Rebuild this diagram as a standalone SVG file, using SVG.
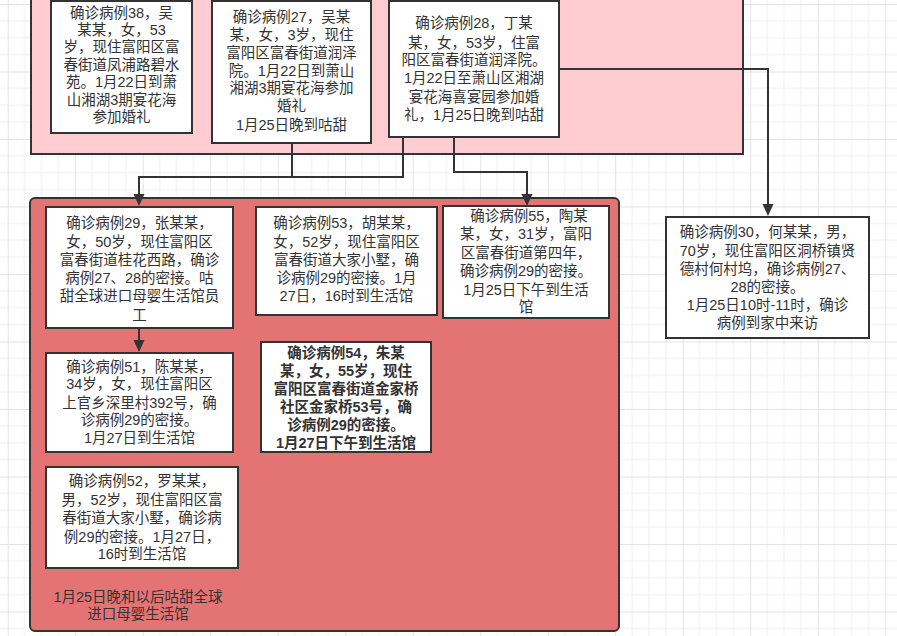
<svg xmlns="http://www.w3.org/2000/svg" width="897" height="636" viewBox="0 0 897 636">
<style>
  .node { fill: #ffffff; stroke: #333333; stroke-width: 2; }
  .t { font-family: "Liberation Sans", "Noto Sans CJK SC", sans-serif; font-size: 14.5px; fill: #333333; text-anchor: middle; dominant-baseline: central; }
  .b { font-weight: bold; }
  .conn { fill: none; stroke: #333333; stroke-width: 2; }
</style>
<defs>
  <pattern id="grid" patternUnits="userSpaceOnUse" x="7.7" y="4" width="67.5" height="67.5">
    <path d="M16.875,0 V67.5 M33.75,0 V67.5 M50.625,0 V67.5 M0,16.875 H67.5 M0,33.75 H67.5 M0,50.625 H67.5" stroke="#f0f0f0" stroke-width="1" fill="none"/>
    <path d="M0.5,0 V67.5 M0,0.5 H67.5" stroke="#e3e3e3" stroke-width="1" fill="none"/>
  </pattern>
  <marker id="arr" viewBox="0 -6 12 12" refX="0" refY="0" markerWidth="12" markerHeight="12" markerUnits="userSpaceOnUse" orient="auto">
    <path d="M0,-5.5 L12,0 L0,5.5 z" fill="#333333"/>
  </marker>
</defs>
<rect x="0" y="0" width="897" height="636" fill="#ffffff"/>
<rect x="0" y="0" width="897" height="636" fill="url(#grid)"/>

<g id="container-top">
  <rect x="31" y="-10" width="712" height="164" fill="#ffccd2" stroke="#333333" stroke-width="2"/>
</g>
<g id="container-shop">
  <rect x="30" y="198" width="589" height="433" rx="5" ry="5" fill="#e47373" stroke="#333333" stroke-width="2"/>
  <text class="t"><tspan x="138" y="596.7">1月25日晚和以后咕甜全球</tspan><tspan x="138" y="614">进口母婴生活馆</tspan></text>
</g>

<g id="connectors">
  <path class="conn" d="M292,143 V177 H139 V194" marker-end="url(#arr)"/>
  <path class="conn" d="M403,137 V177 H292"/>
  <path class="conn" d="M454,137 V172 H527 V194" marker-end="url(#arr)"/>
  <path class="conn" d="M559,69 H768 V204" marker-end="url(#arr)"/>
  <path class="conn" d="M139,328 V340" marker-end="url(#arr)"/>
</g>

<g id="case38">
  <rect class="node" x="51" y="1" width="141" height="132"/>
  <text class="t"><tspan x="121.5" y="13.3">确诊病例38，吴</tspan><tspan x="121.5" y="30">某某，女，53</tspan><tspan x="121.5" y="47.3">岁，现住富阳区富</tspan><tspan x="121.5" y="65">春街道凤浦路碧水</tspan><tspan x="121.5" y="82.3">苑。1月22日到萧</tspan><tspan x="121.5" y="100">山湘湖3期宴花海</tspan><tspan x="121.5" y="117.3">参加婚礼</tspan></text>
</g>

<g id="case27">
  <rect class="node" x="212" y="1" width="159" height="142"/>
  <text class="t"><tspan x="291.5" y="16.7">确诊病例27，吴某</tspan><tspan x="291.5" y="35">某，女，3岁，现住</tspan><tspan x="291.5" y="52.5">富阳区富春街道润泽</tspan><tspan x="291.5" y="70.5">院。1月22日到萧山</tspan><tspan x="291.5" y="88.3">湘湖3期宴花海参加</tspan><tspan x="291.5" y="106">婚礼</tspan><tspan x="291.5" y="125">1月25日晚到咕甜</tspan></text>
</g>

<g id="case28">
  <rect class="node" x="389" y="1" width="170" height="136"/>
  <text class="t"><tspan x="474" y="23.3">确诊病例28，丁某</tspan><tspan x="474" y="42.7">某，女，53岁，住富</tspan><tspan x="474" y="60">阳区富春街道润泽院。</tspan><tspan x="474" y="78.3">1月22日至萧山区湘湖</tspan><tspan x="474" y="96.7">宴花海喜宴园参加婚</tspan><tspan x="474" y="115">礼，1月25日晚到咕甜</tspan></text>
</g>

<g id="case29">
  <rect class="node" x="46" y="207" width="187" height="121"/>
  <text class="t"><tspan x="139.5" y="223.3">确诊病例29，张某某，</tspan><tspan x="139.5" y="241.7">女，50岁，现住富阳区</tspan><tspan x="139.5" y="260">富春街道桂花西路，确诊</tspan><tspan x="139.5" y="277.7">病例27、28的密接。咕</tspan><tspan x="139.5" y="296">甜全球进口母婴生活馆员</tspan><tspan x="139.5" y="315">工</tspan></text>
</g>

<g id="case53">
  <rect class="node" x="256" y="207" width="181" height="108"/>
  <text class="t"><tspan x="346.5" y="223.3">确诊病例53，胡某某，</tspan><tspan x="346.5" y="241.7">女，52岁，现住富阳区</tspan><tspan x="346.5" y="260">富春街道大家小墅，确</tspan><tspan x="346.5" y="277.7">诊病例29的密接。1月</tspan><tspan x="346.5" y="296">27日，16时到生活馆</tspan></text>
</g>

<g id="case55">
  <rect class="node" x="443" y="206" width="166" height="112"/>
  <text class="t"><tspan x="529" y="216">确诊病例55，陶某</tspan><tspan x="526" y="234.3">某，女，31岁，富阳</tspan><tspan x="526" y="252.7">区富春街道第四年，</tspan><tspan x="526" y="271">确诊病例29的密接。</tspan><tspan x="526" y="290">1月25日下午到生活</tspan><tspan x="526" y="307.3">馆</tspan></text>
</g>

<g id="case30">
  <rect class="node" x="666" y="217" width="203" height="121"/>
  <text class="t"><tspan x="767.5" y="231.7">确诊病例30，何某某，男，</tspan><tspan x="767.5" y="251">70岁，现住富阳区洞桥镇贤</tspan><tspan x="767.5" y="269">德村何村坞，确诊病例27、</tspan><tspan x="767.5" y="286.7">28的密接。</tspan><tspan x="767.5" y="305">1月25日10时-11时，确诊</tspan><tspan x="767.5" y="323.3">病例到家中来访</tspan></text>
</g>

<g id="case51">
  <rect class="node" x="46" y="353" width="187" height="99"/>
  <text class="t"><tspan x="139.5" y="366.7">确诊病例51，陈某某，</tspan><tspan x="139.5" y="384.3">34岁，女，现住富阳区</tspan><tspan x="139.5" y="402.7">上官乡深里村392号，确</tspan><tspan x="139.5" y="420">诊病例29的密接。</tspan><tspan x="139.5" y="438.3">1月27日到生活馆</tspan></text>
</g>

<g id="case54">
  <rect class="node" x="261" y="342" width="170" height="110"/>
  <text class="t b"><tspan x="346" y="352.7">确诊病例54，朱某</tspan><tspan x="346" y="370.7">某，女，55岁，现住</tspan><tspan x="346" y="389">富阳区富春街道金家桥</tspan><tspan x="346" y="406.7">社区金家桥53号，确</tspan><tspan x="346" y="425">诊病例29的密接。</tspan><tspan x="346" y="442.7">1月27日下午到生活馆</tspan></text>
</g>

<g id="case52">
  <rect class="node" x="46" y="467" width="192" height="101"/>
  <text class="t"><tspan x="142" y="480.7">确诊病例52，罗某某，</tspan><tspan x="142" y="500">男，52岁，现住富阳区富</tspan><tspan x="142" y="518.3">春街道大家小墅，确诊病</tspan><tspan x="142" y="536.7">例29的密接。1月27日，</tspan><tspan x="142" y="554.3">16时到生活馆</tspan></text>
</g>
</svg>
